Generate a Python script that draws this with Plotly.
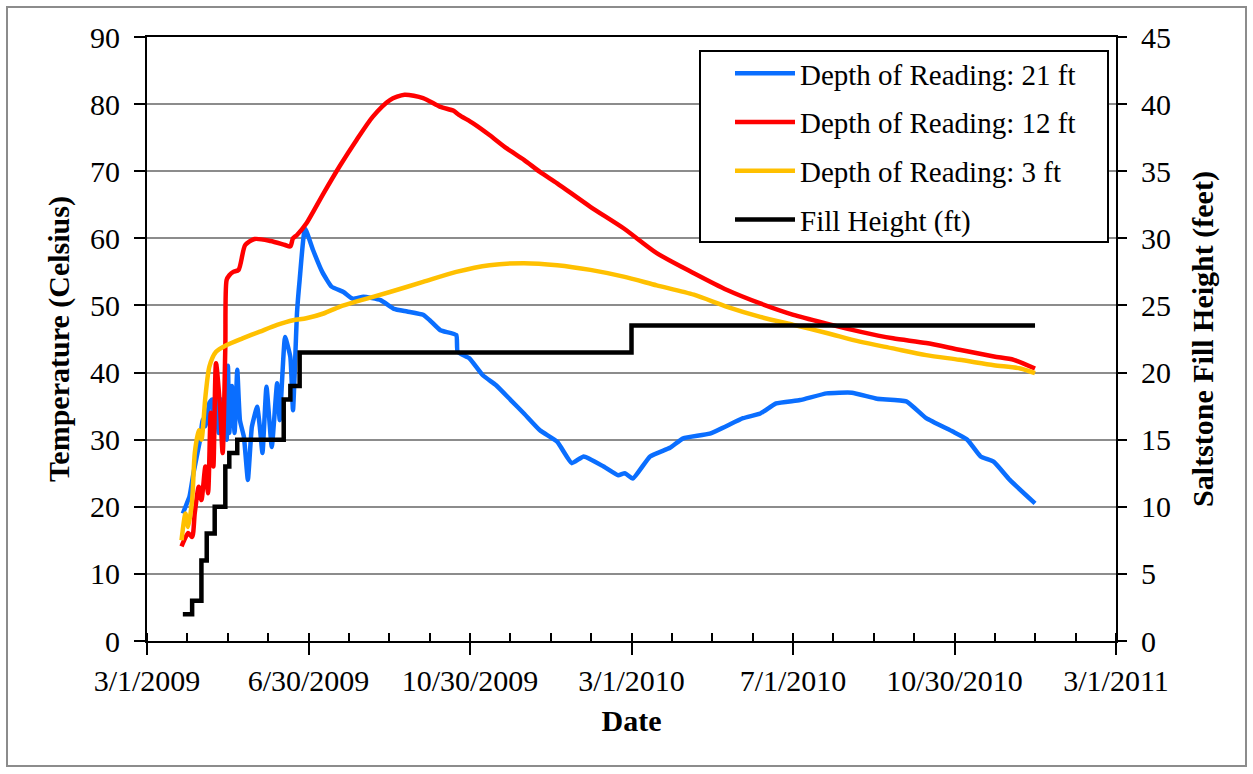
import plotly.graph_objects as go
import pandas as pd

# ---------------- data ----------------
blue_dates = ["2009-03-28", "2009-03-30", "2009-04-02", "2009-04-05", "2009-04-08", "2009-04-10",
              "2009-04-12", "2009-04-14", "2009-04-17", "2009-04-19", "2009-04-20", "2009-04-22",
              "2009-04-24", "2009-04-26", "2009-04-28", "2009-04-30", "2009-05-01", "2009-05-02",
              "2009-05-04", "2009-05-06", "2009-05-08", "2009-05-10", "2009-05-13", "2009-05-16",
              "2009-05-19", "2009-05-23", "2009-05-25", "2009-05-27", "2009-05-30", "2009-06-03",
              "2009-06-07", "2009-06-09", "2009-06-13", "2009-06-17", "2009-06-19", "2009-06-22",
              "2009-06-24", "2009-06-28", "2009-07-04", "2009-07-11", "2009-07-18", "2009-07-27",
              "2009-08-03", "2009-08-11", "2009-08-24", "2009-09-03", "2009-09-13", "2009-09-25",
              "2009-09-30", "2009-10-08", "2009-10-20", "2009-10-21", "2009-10-30", "2009-11-09",
              "2009-11-19", "2009-11-30", "2009-12-10", "2009-12-22", "2010-01-04", "2010-01-15",
              "2010-01-24", "2010-02-08", "2010-02-19", "2010-02-24", "2010-03-02", "2010-03-15",
              "2010-03-30", "2010-04-09", "2010-04-29", "2010-05-24", "2010-06-06", "2010-06-18",
              "2010-07-06", "2010-07-26", "2010-08-14", "2010-09-02", "2010-09-24", "2010-10-09",
              "2010-10-29", "2010-11-09", "2010-11-19", "2010-11-29", "2010-12-11", "2010-12-30"]
blue_temp = [19.0, 20.0, 21.5, 25.0, 28.0, 30.0,
             33.0, 32.0, 35.5, 36.0, 33.0, 37.0,
             31.0, 36.0, 33.0, 30.0, 41.0, 31.0,
             38.0, 31.0, 40.4, 32.9, 30.4, 24.0,
             31.9, 34.9, 31.9, 28.0, 37.9, 28.9,
             38.4, 32.9, 45.3, 42.3, 34.4, 48.9,
             53.8, 61.5, 58.3, 55.0, 52.8, 52.0,
             51.0, 51.3, 50.8, 49.5, 49.1, 48.6,
             47.8, 46.3, 45.6, 43.1, 42.1, 39.6,
             38.1, 35.9, 33.9, 31.4, 29.7, 26.5,
             27.5, 26.0, 24.7, 25.0, 24.2, 27.5,
             28.8, 30.2, 30.9, 33.2, 33.9, 35.4,
             35.9, 36.9, 37.0, 36.1, 35.7, 33.2,
             31.2, 30.0, 27.5, 26.7, 24.0, 20.5]

red_dates = ["2009-03-27", "2009-03-29", "2009-04-01", "2009-04-04", "2009-04-06", "2009-04-09",
             "2009-04-11", "2009-04-14", "2009-04-16", "2009-04-18", "2009-04-20", "2009-04-22",
             "2009-04-25", "2009-04-27", "2009-04-29", "2009-04-30", "2009-05-02", "2009-05-05",
             "2009-05-09", "2009-05-14", "2009-05-21", "2009-06-02", "2009-06-13", "2009-06-17",
             "2009-06-19", "2009-06-22", "2009-06-29", "2009-07-12", "2009-07-24", "2009-08-06",
             "2009-08-18", "2009-08-31", "2009-09-11", "2009-09-25", "2009-10-08", "2009-10-18",
             "2009-10-22", "2009-11-02", "2009-11-14", "2009-11-27", "2009-12-10", "2009-12-22",
             "2010-01-04", "2010-01-29", "2010-02-23", "2010-03-20", "2010-04-17", "2010-05-12",
             "2010-06-06", "2010-07-01", "2010-07-26", "2010-08-20", "2010-09-14", "2010-10-09",
             "2010-11-03", "2010-11-29", "2010-12-14", "2010-12-30"]
red_temp = [14.1, 15.0, 16.1, 15.5, 19.1, 23.0,
            21.0, 26.0, 22.0, 34.0, 26.0, 41.4,
            34.9, 28.0, 43.8, 53.8, 54.5, 55.0,
            55.3, 59.0, 59.9, 59.6, 59.0, 58.8,
            60.0, 60.5, 62.2, 66.7, 70.7, 74.7,
            78.1, 80.6, 81.4, 80.9, 79.6, 79.0,
            78.4, 77.1, 75.4, 73.4, 71.7, 69.9,
            68.2, 64.7, 61.5, 57.8, 54.8, 52.3,
            50.3, 48.6, 47.3, 46.1, 45.1, 44.4,
            43.4, 42.4, 41.9, 40.6]

yellow_dates = ["2009-03-27", "2009-03-30", "2009-04-01", "2009-04-04", "2009-04-06", "2009-04-09",
                "2009-04-11", "2009-04-14", "2009-04-17", "2009-04-22", "2009-04-30", "2009-05-12",
                "2009-05-25", "2009-06-07", "2009-06-19", "2009-06-29", "2009-07-12", "2009-07-24",
                "2009-08-06", "2009-08-31", "2009-09-25", "2009-10-20", "2009-11-14", "2009-12-10",
                "2010-01-04", "2010-01-29", "2010-02-23", "2010-03-20", "2010-04-17", "2010-05-12",
                "2010-06-06", "2010-07-01", "2010-07-26", "2010-08-20", "2010-09-14", "2010-10-09",
                "2010-11-03", "2010-11-29", "2010-12-19", "2010-12-30"]
yellow_temp = [15.0, 19.0, 17.0, 21.0, 28.0, 31.4,
               30.0, 36.4, 40.9, 43.1, 44.1, 45.1,
               46.1, 47.1, 47.8, 48.1, 48.8, 49.8,
               50.6, 52.0, 53.5, 55.0, 56.0, 56.3,
               56.0, 55.3, 54.3, 53.0, 51.6, 49.8,
               48.3, 47.1, 45.9, 44.6, 43.6, 42.6,
               41.9, 41.1, 40.6, 39.9]

fill_dates = ["2009-03-28", "2009-04-04", "2009-04-11", "2009-04-15", "2009-04-21", "2009-04-29",
              "2009-05-02", "2009-05-08", "2009-06-12", "2009-06-17", "2009-06-24", "2010-03-01",
              "2010-12-30"]
fill_height = [2, 3, 6, 8, 10, 13, 14, 15, 18, 19, 21.5, 23.5, 23.5]

x_tick_labels = ["3/1/2009", "6/30/2009", "10/30/2009", "3/1/2010", "7/1/2010", "10/30/2010", "3/1/2011"]
series_names = ["Depth of Reading: 21 ft", "Depth of Reading: 12 ft", "Depth of Reading: 3 ft", "Fill Height (ft)"]

# ---------------- layout geometry ----------------
W, H = 1253, 774
ML, MR, MT, MB = 147, 137, 37, 133
PW, PH = W - ML - MR, H - MT - MB


def px(xp):
    return (xp - ML) / PW


def py(yp):
    return (H - MB - yp) / PH


start = pd.Timestamp("2009-03-01")
end = pd.Timestamp("2011-03-01")
span = end - start
major = [start + span * k / 6 for k in range(7)]
minor = [start + span * k / 24 for k in range(25)]

FONT = "Liberation Serif, Times New Roman, serif"
GRID = "#8c8c8c"

fig = go.Figure()
colors = ["#0A6EFF", "#FF0000", "#FFC000", "#000000"]
smooth = [0.4, 0.7, 0.7]
data = [(blue_dates, blue_temp), (red_dates, red_temp), (yellow_dates, yellow_temp)]
for i, (d, v) in enumerate(data):
    fig.add_trace(go.Scatter(x=pd.to_datetime(d), y=v, mode="lines", name=series_names[i],
                             legendgroup=str(i),
                             line=dict(color=colors[i], width=4.5, shape="spline", smoothing=smooth[i])))
fig.add_trace(go.Scatter(x=pd.to_datetime(fill_dates), y=fill_height, mode="lines", name=series_names[3],
                         legendgroup="3", yaxis="y2",
                         line=dict(color=colors[3], width=4.5, shape="hv")))

fig.update_layout(
    width=W, height=H,
    margin=dict(l=ML, r=MR, t=MT, b=MB),
    paper_bgcolor="white", plot_bgcolor="white",
    font=dict(family=FONT, size=30, color="black"),
    showlegend=True,
    legend=dict(x=px(730), y=py(48), xanchor="left", yanchor="top",
                bgcolor="rgba(0,0,0,0)", borderwidth=0,
                font=dict(family=FONT, size=29),
                traceorder="grouped", tracegroupgap=8, itemwidth=60),
    xaxis=dict(range=[start, end], tickvals=major, ticktext=x_tick_labels,
               ticks="outside", ticklen=12, tickwidth=2, tickcolor="black",
               minor=dict(tickvals=minor, ticks="inside", ticklen=8, tickwidth=2, tickcolor="black"),
               showline=True, linecolor="black", linewidth=2, mirror=True,
               showgrid=False, zeroline=False,
               tickfont=dict(size=30),
               title=dict(text="<b>Date</b>", font=dict(size=30), standoff=14)),
    yaxis=dict(range=[0, 90], dtick=10, ticks="outside", ticklen=11, tickwidth=2, tickcolor="black",
               showline=True, linecolor="black", linewidth=2,
               showgrid=True, gridcolor=GRID, gridwidth=2, zeroline=False,
               tickfont=dict(size=30), ticklabelstandoff=8,
               title=dict(text="<b>Temperature (Celsius)</b>", font=dict(size=30), standoff=12)),
    yaxis2=dict(range=[0, 45], dtick=5, overlaying="y", side="right",
                ticks="outside", ticklen=9, tickwidth=2, tickcolor="black",
                showline=True, linecolor="black", linewidth=2,
                showgrid=False, zeroline=False,
                tickfont=dict(size=30), ticklabelstandoff=8,
                title=dict(text="<b>Saltstone Fill Height (feet)</b>", font=dict(size=30), standoff=22)),
    shapes=[
        dict(type="rect", xref="paper", yref="paper",
             x0=px(7), x1=px(1246), y0=py(766), y1=py(7),
             line=dict(color="#8c8c8c", width=2), fillcolor="rgba(0,0,0,0)", layer="below"),
        dict(type="rect", xref="paper", yref="paper",
             x0=px(700), x1=px(1108), y0=py(242), y1=py(51),
             line=dict(color="black", width=2), fillcolor="white", layer="above"),
    ],
)

fig.write_html("out.html")
